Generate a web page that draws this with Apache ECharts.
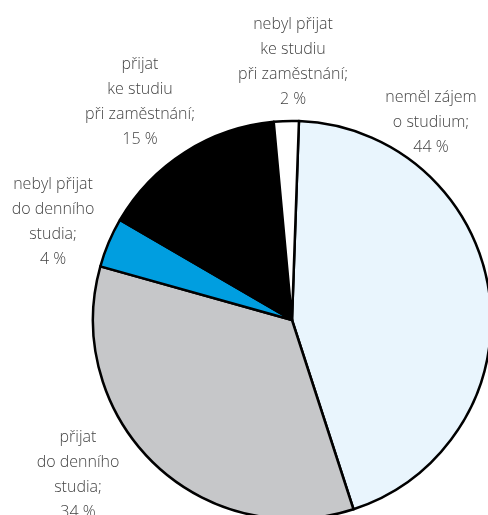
<!DOCTYPE html>
<html>
<head>
<meta charset="utf-8">
<script src="https://cdn.jsdelivr.net/npm/echarts@6/dist/echarts.min.js"></script>
<style>
  html, body { margin: 0; padding: 0; background: #fff; }
  #main { width: 488px; height: 515px; }
</style>
</head>
<body>
<div id="main"></div>
<script>
var names = ['neměl zájem\no studium', 'přijat\ndo denního\nstudia', 'nebyl přijat\ndo denního\nstudia', 'přijat\nke studiu\npři zaměstnání', 'nebyl přijat\nke studiu\npři zaměstnání'];
var values = [44, 34, 4, 15, 2];
var colors = ['#e9f5fd', '#c6c7c9', '#009ee0', '#000000', '#ffffff'];

// where each label sits (centre of the text block)
var labelPos = [[431, 122], [78, 475], [53, 222], [140, 102], [293, 62]];

var chart = echarts.init(document.getElementById('main'));
chart.setOption({
  animation: false,
  series: [{
    type: 'pie',
    center: [292, 320],
    radius: 199,
    startAngle: 88,
    clockwise: true,
    avoidLabelOverlap: false,
    data: names.map(function (n, i) {
      return { name: n, value: values[i], itemStyle: { color: colors[i] } };
    }),
    itemStyle: { borderColor: '#000', borderWidth: 2.5 },
    label: {
      show: true,
      position: 'outside',
      formatter: '{b};\n{c} %',
      fontFamily: 'Open Sans',
      fontSize: 16,
      fontWeight: 300,
      lineHeight: 25,
      color: '#444',
      align: 'center'
    },
    labelLine: { show: false },
    labelLayout: function (p) {
      var pos = labelPos[p.dataIndex];
      return { x: pos[0], y: pos[1], align: 'center', verticalAlign: 'middle', hideOverlap: false };
    },
    emphasis: { disabled: true }
  }]
});
</script>
</body>
</html>
